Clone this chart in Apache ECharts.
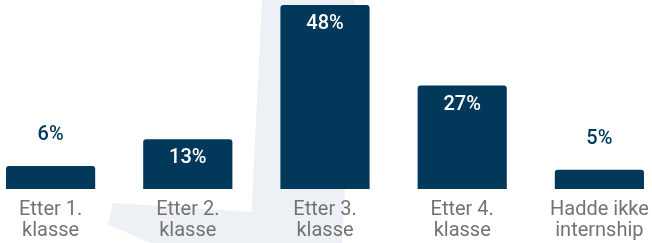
<!DOCTYPE html>
<html>
<head>
<meta charset="utf-8">
<script src="https://cdn.jsdelivr.net/npm/echarts@6/dist/echarts.min.js"></script>
<style>
  html, body { margin: 0; padding: 0; background: #fff; }
  #chart { width: 652px; height: 243px; }
</style>
</head>
<body>
<div id="chart"></div>
<script>
// kategorier og andeler (%)
const categories = ['Etter 1.\nklasse', 'Etter 2.\nklasse', 'Etter 3.\nklasse', 'Etter 4.\nklasse', 'Hadde ikke\ninternship']
const shares = [6, 13, 48, 27, 5]

const barColor = '#02385a'
const textGray = '#737373'
const wmColor = '#edf0f5'

const chart = echarts.init(document.getElementById('chart'))

// små søyler får etiketten over, store får den inni
const barData = shares.map(v => {
  const small = v < 10
  return {
    value: v,
    label: small
      ? { position: 'top', distance: 21, color: barColor, textBorderColor: '#fff', textBorderWidth: 3 }
      : { position: 'insideTop', distance: 9, color: '#fff' },
  }
})

chart.setOption({
  animation: false,
  // svakt vannmerke i bakgrunnen
  graphic: [
    {
      type: 'polygon', z: -10, silent: true,
      shape: { points: [[262, 0], [355, 0], [342, 243], [250, 243]] },
      style: { fill: wmColor },
    },
    {
      type: 'polygon', z: -10, silent: true,
      shape: { points: [[113, 203], [252, 212], [250, 243], [150, 243], [108, 224]] },
      style: { fill: wmColor },
    },
  ],
  grid: { left: -18, right: -16, top: 5, bottom: 54, outerBoundsMode: 'none', containLabel: false },
  xAxis: {
    type: 'category',
    data: categories,
    axisLine: { show: false },
    axisTick: { show: false },
    axisLabel: {
      color: textGray,
      fontFamily: 'Roboto',
      fontSize: 20,
      lineHeight: 21,
      margin: 10,
      interval: 0,
    },
  },
  yAxis: {
    type: 'value',
    min: 0,
    max: 'dataMax',
    show: false,
  },
  series: [{
    type: 'bar',
    barCategoryGap: '35%',
    itemStyle: { color: barColor, borderRadius: [3, 3, 0, 0] },
    label: {
      show: true,
      formatter: '{c}%',
      fontFamily: 'Roboto',
      fontSize: 20,
      fontWeight: 500,
    },
    data: barData,
  }],
})
</script>
</body>
</html>
